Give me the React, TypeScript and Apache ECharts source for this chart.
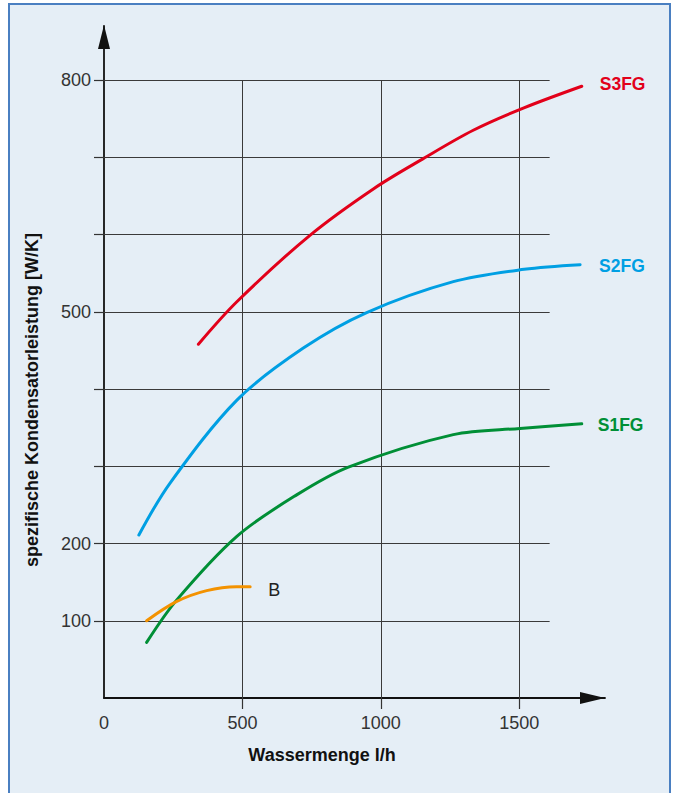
import React, { useEffect, useRef } from "react";
import * as echarts from "echarts";

const FONT = '"Liberation Sans", Arial, Helvetica, sans-serif';

// axis ranges / ticks
const xMax = 1810;
const yMax = 870;
const xTickValues = [500, 1000, 1500];
const xLabelValues = [0, 500, 1000, 1500];
const yTickValues = [100, 200, 300, 400, 500, 600, 700, 800];
const yLabelValues = [100, 200, 500, 800];
const gridXEnd = 1610;
const gridYTop = 800;

// series data [Wassermenge l/h, W/K]
const s3fg = [
  [341, 458], [480, 513], [744, 599], [977, 660],
  [1152, 698], [1334, 735], [1517, 764], [1726, 792],
];
const s2fg = [
  [126, 211], [238, 278], [481, 386], [720, 453],
  [949, 499], [1262, 539], [1518, 555], [1720, 561],
];
const s1fg = [
  [154, 72], [263, 127], [479, 209], [696, 263],
  [883, 299], [1262, 341], [1503, 349], [1726, 355],
];
const bCurve = [
  [154, 100], [263, 125], [371, 139], [479, 144], [528, 144],
];

const GRID_LEFT = 104;
const GRID_TOP = 26;
const GRID_W = 501;
const GRID_H = 672;

function curve(name: string, data: number[][], color: string, distance: number, offset: number[], labelColor: string, bold: boolean, fontSize: number) {
  return {
    name,
    type: "line",
    data,
    smooth: 0.33,
    showSymbol: false,
    z: 3,
    lineStyle: { color, width: 3, cap: "round" },
    itemStyle: { color },
    endLabel: {
      show: true,
      formatter: name,
      color: labelColor,
      fontWeight: bold ? "bold" : "normal",
      fontSize,
      fontFamily: FONT,
      distance,
      offset,
    },
  };
}

export default function App() {
  const ref = useRef<HTMLDivElement>(null);
  useEffect(() => {
    if (!ref.current) return;
    const chart = echarts.init(ref.current, undefined, { renderer: "svg" });
    const gridLines = [
      ...yTickValues.map((v) => ({ coords: [[0, v], [gridXEnd, v]] })),
      ...xTickValues.map((v) => ({ coords: [[v, 0], [v, gridYTop]] })),
    ];
    const axisLine = { show: true, onZero: false, lineStyle: { color: "#111", width: 1.8 } };
    const labelStyle = { fontSize: 18, color: "#333", fontFamily: FONT, formatter: (v: number) => String(v) };
    chart.setOption({
      animation: false,
      backgroundColor: "transparent",
      grid: { left: GRID_LEFT, top: GRID_TOP, width: GRID_W, height: GRID_H, containLabel: false },
      xAxis: {
        type: "value",
        min: 0,
        max: xMax,
        axisLine,
        axisTick: { show: true, customValues: xTickValues, length: 11, lineStyle: { color: "#333", width: 1.2 } },
        axisLabel: { customValues: xLabelValues, margin: 16, ...labelStyle },
        splitLine: { show: false },
      },
      yAxis: {
        type: "value",
        min: 0,
        max: yMax,
        axisLine,
        axisTick: { show: true, customValues: yTickValues, length: 10, lineStyle: { color: "#333", width: 1.2 } },
        axisLabel: { customValues: yLabelValues, margin: 13, ...labelStyle },
        splitLine: { show: false },
      },
      series: [
        {
          type: "lines",
          coordinateSystem: "cartesian2d",
          polyline: false,
          silent: true,
          z: 1,
          lineStyle: { color: "#3a3a3a", width: 1, opacity: 1 },
          data: gridLines,
        },
        curve("S3FG", s3fg, "#e2001a", 18, [0, -2], "#e2001a", true, 17.5),
        curve("S2FG", s2fg, "#009fe3", 19, [0, 1], "#009fe3", true, 17.5),
        curve("S1FG", s1fg, "#008f36", 16, [0, 1], "#008f36", true, 17.5),
        curve("B", bCurve, "#f39200", 18, [0, 3], "#222", false, 18),
      ],
      graphic: [
        {
          type: "polygon",
          z: 100,
          shape: { points: [[GRID_LEFT, GRID_TOP - 1], [GRID_LEFT - 6, GRID_TOP + 23], [GRID_LEFT + 6, GRID_TOP + 23]] },
          style: { fill: "#111" },
        },
        {
          type: "polygon",
          z: 100,
          shape: {
            points: [
              [GRID_LEFT + GRID_W, GRID_TOP + GRID_H],
              [GRID_LEFT + GRID_W - 25, GRID_TOP + GRID_H - 6],
              [GRID_LEFT + GRID_W - 25, GRID_TOP + GRID_H + 6],
            ],
          },
          style: { fill: "#111" },
        },
        {
          type: "text",
          x: 322,
          y: 755,
          style: {
            text: "Wassermenge l/h",
            fill: "#111",
            font: `bold 18px ${FONT}`,
            textAlign: "center",
            textVerticalAlign: "middle",
          },
        },
        {
          type: "text",
          x: 32,
          y: 400,
          rotation: Math.PI / 2,
          style: {
            text: "spezifische Kondensatorleistung [W/K]",
            fill: "#111",
            font: `bold 18px ${FONT}`,
            textAlign: "center",
            textVerticalAlign: "middle",
          },
        },
      ],
    });
    return () => chart.dispose();
  }, []);

  return (
    <div style={{ position: "absolute", left: 0, top: 0, width: 678, height: 793, background: "#fff", overflow: "hidden" }}>
      <div
        style={{
          position: "absolute",
          left: 8,
          top: 3,
          width: 663,
          height: 820,
          background: "#e5eef6",
          border: "2px solid #4a7fc1",
          boxSizing: "border-box",
        }}
      />
      <div ref={ref} style={{ position: "absolute", left: 0, top: 0, width: 678, height: 793 }} />
    </div>
  );
}
